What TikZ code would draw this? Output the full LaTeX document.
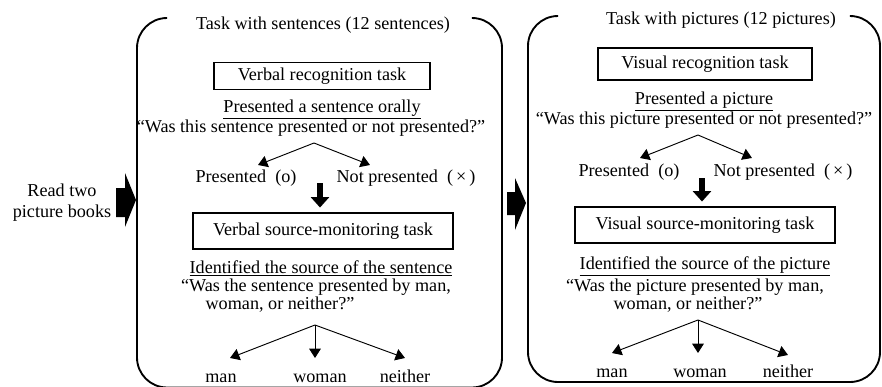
\documentclass[tikz,border=0pt]{standalone}
\usepackage{fontspec}
\setmainfont{Liberation Serif}
\usetikzlibrary{arrows.meta,calc}

\begin{document}
\begin{tikzpicture}[x=0.03cm,y=-0.03cm,>={Triangle[length=8pt,width=10pt]},
    every node/.style={font=\fontsize{15.5}{15.5}\selectfont,inner sep=0pt,text height=11pt,text depth=3.5pt},
    panel/.style={line width=1.6pt,rounded corners=0.9cm},
    taskbox/.style={draw,line width=1.3pt,inner sep=0pt},
    pick/.style={->,line width=0.8pt},
    fatdown/.style={line width=5pt,-{Triangle[length=9pt,width=15.5pt]}}]
  \useasboundingbox (0,0) rectangle (882,387);

  % reading phase and the two block arrows
  \node[text height=,text depth=,align=center] (books) at (62,203) {Read two\\[2.4pt]picture books};
  \fill (116,188) -- (125,188) -- (125,173) -- (136,200) -- (125,227) -- (125,217) -- (116,217) -- cycle;
  \fill (507,192) -- (515,192) -- (515,178) -- (526,203) -- (515,230) -- (515,215) -- (507,215) -- cycle;

  % sentences
  \draw[panel] (167,18) -- (137,18) -- (137,387.5) -- (502,387.5) -- (502,18) -- (472,18);
  \node (titleS) at (323,25) {Task with sentences (12 sentences)};
  \node[taskbox,minimum width=6.48cm,minimum height=0.8cm] (recS) at (322,76) {Verbal recognition task};
  \node (doS) at (322,108) {\underline{Presented a sentence orally}};
  \node (askS) at (311,128) {“Was this sentence presented or not presented?”};
  \coordinate (askS-a) at (314,143);
  \node (yesS) at (246,178) {Presented\ \ (o)};
  \node (noS) at (406,178) {Not presented\ \ (\,×\,)};
  \coordinate (yesS-t) at (258,165);
  \coordinate (noS-t) at (370,165);
  \draw[pick] (askS-a) -- (yesS-t);
  \draw[pick] (askS-a) -- (noS-t);
  \node[taskbox,minimum width=7.8cm,minimum height=1.08cm] (srcS) at (323,231) {Verbal source-monitoring task};
  \coordinate (stepS) at (320,183);
  \draw[fatdown,shorten >=4pt] (stepS) -- (stepS |- srcS.north);
  \node (idS) at (321,269) {\underline{Identified the source of the sentence}};
  \node (whoS) at (316,287) {“Was the sentence presented by man,};
  \node (whoS2) at (280,305) {woman, or neither?”};
  \coordinate (whoS-a) at (315,325);
  \node (manS) at (221,378) {man};
  \node (womanS) at (320,378) {woman};
  \node (neitherS) at (405,378) {neither};
  \coordinate (manS-t) at (230,358);
  \coordinate (womanS-t) at (315,358);
  \coordinate (neitherS-t) at (405,358);
  \draw[pick] (whoS-a) -- (manS-t);
  \draw[pick] (whoS-a) -- (womanS-t);
  \draw[pick] (whoS-a) -- (neitherS-t);

  % pictures
  \draw[panel] (558,16) -- (528,16) -- (528,382) -- (880,382) -- (880,16) -- (850,16);
  \node (titleP) at (721,20) {Task with pictures (12 pictures)};
  \node[taskbox,minimum width=6.42cm,minimum height=0.96cm] (recP) at (705,64) {Visual recognition task};
  \node (doP) at (704,100) {\underline{Presented a picture}};
  \node (askP) at (704,120) {“Was this picture presented or not presented?”};
  \coordinate (askP-a) at (698,135);
  \node (yesP) at (629,172) {Presented\ \ (o)};
  \node (noP) at (783,172) {Not presented\ \ (\,×\,)};
  \coordinate (yesP-t) at (640,158);
  \coordinate (noP-t) at (752,158);
  \draw[pick] (askP-a) -- (yesP-t);
  \draw[pick] (askP-a) -- (noP-t);
  \node[taskbox,minimum width=7.8cm,minimum height=1.08cm] (srcP) at (705,225) {Visual source-monitoring task};
  \coordinate (stepP) at (702,178);
  \draw[fatdown,shorten >=4pt] (stepP) -- (stepP |- srcP.north);
  \node (idP) at (705,265) {\underline{Identified the source of the picture}};
  \node (whoP) at (695,287) {“Was the picture presented by man,};
  \node (whoP2) at (688,305) {woman, or neither?”};
  \coordinate (whoP-a) at (698,320);
  \node (manP) at (612,373) {man};
  \node (womanP) at (700,373) {woman};
  \node (neitherP) at (788,373) {neither};
  \coordinate (manP-t) at (612,353);
  \coordinate (womanP-t) at (698,353);
  \coordinate (neitherP-t) at (788,355);
  \draw[pick] (whoP-a) -- (manP-t);
  \draw[pick] (whoP-a) -- (womanP-t);
  \draw[pick] (whoP-a) -- (neitherP-t);
\end{tikzpicture}
\end{document}
